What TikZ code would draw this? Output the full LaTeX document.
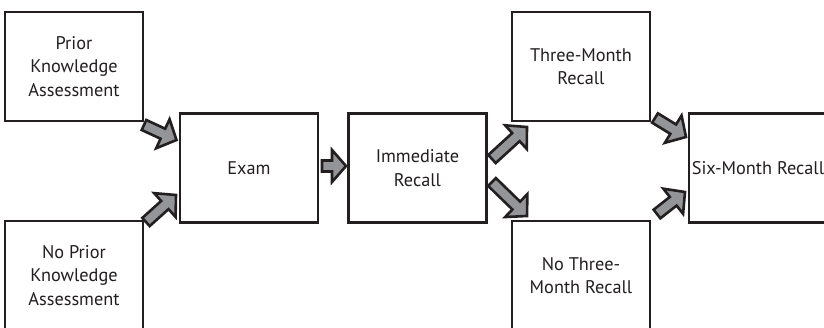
\documentclass[tikz,border=0pt]{standalone}
\usepackage{fontspec}
\setmainfont{PT Sans}
\usetikzlibrary{calc}
\definecolor{ink}{HTML}{231F20}
\definecolor{arrowgray}{HTML}{939598}
\tikzset{
  box/.style={draw=ink, line width=2.8pt, minimum width=138pt, minimum height=109pt,
    inner sep=0pt, align=center, text=ink, font=\fontsize{18.3}{23.5}\selectfont},
  barrow/.style={fill=arrowgray, draw=ink, line width=2.6pt, line join=miter},
}
% #1 tail, #2 tip, #3 shaft half width, #4 head half width, #5 head length
\newcommand{\blockarrow}[5]{%
  \coordinate (bah) at ($(#2)!#5!(#1)$);
  \filldraw[barrow] ($(#1)!#3!90:(#2)$) -- ($(bah)!#3!-90:(#1)$) -- ($(bah)!#4!-90:(#1)$)
    -- (#2) -- ($(bah)!#4!90:(#1)$) -- ($(bah)!#3!90:(#1)$) -- ($(#1)!#3!-90:(#2)$) -- cycle;}
\begin{document}
\begin{tikzpicture}[x=1pt, y=-1pt]
  \clip (0,0) rectangle (824,327);
  \fill[white] (0,0) rectangle (824,327);
  % boxes
  \node[box] (prior) at (74,66.5) {Prior\\Knowledge\\Assessment};
  \node[box] (noprior) at (74,275.5) {No Prior\\Knowledge\\Assessment};
  \node[box] (exam) at (249,168) {Exam};
  \node[box] (imm) at (417.5,168) {Immediate\\Recall};
  \node[box] (three) at (581,66.5) {Three-Month\\Recall};
  \node[box] (nothree) at (581,275.5) {No Three-\\Month Recall};
  \node[box] (six) at (758,168) {Six-Month Recall};
  % arrow end points
  \coordinate (a1s) at (144,125);   \coordinate (a1e) at (176.5,140);
  \coordinate (a2s) at (146,222);   \coordinate (a2e) at (176,195);
  \coordinate (a3s) at (322,166);   \coordinate (a3e) at (346,166);
  \coordinate (a4s) at (492,159);   \coordinate (a4e) at (527,127);
  \coordinate (a5s) at (492,182);   \coordinate (a5e) at (527,216);
  \coordinate (a6s) at (655,118);   \coordinate (a6e) at (686,137);
  \coordinate (a7s) at (657,214);   \coordinate (a7e) at (685,192);
  % arrows
  \blockarrow{a1s}{a1e}{5.5pt}{16pt}{15pt}
  \blockarrow{a2s}{a2e}{5.5pt}{16pt}{15pt}
  \blockarrow{a3s}{a3e}{5.5pt}{16pt}{14pt}
  \blockarrow{a4s}{a4e}{5.5pt}{16pt}{15pt}
  \blockarrow{a5s}{a5e}{5.5pt}{16pt}{15pt}
  \blockarrow{a6s}{a6e}{5.5pt}{16pt}{15pt}
  \blockarrow{a7s}{a7e}{5.5pt}{16pt}{15pt}
\end{tikzpicture}
\end{document}
